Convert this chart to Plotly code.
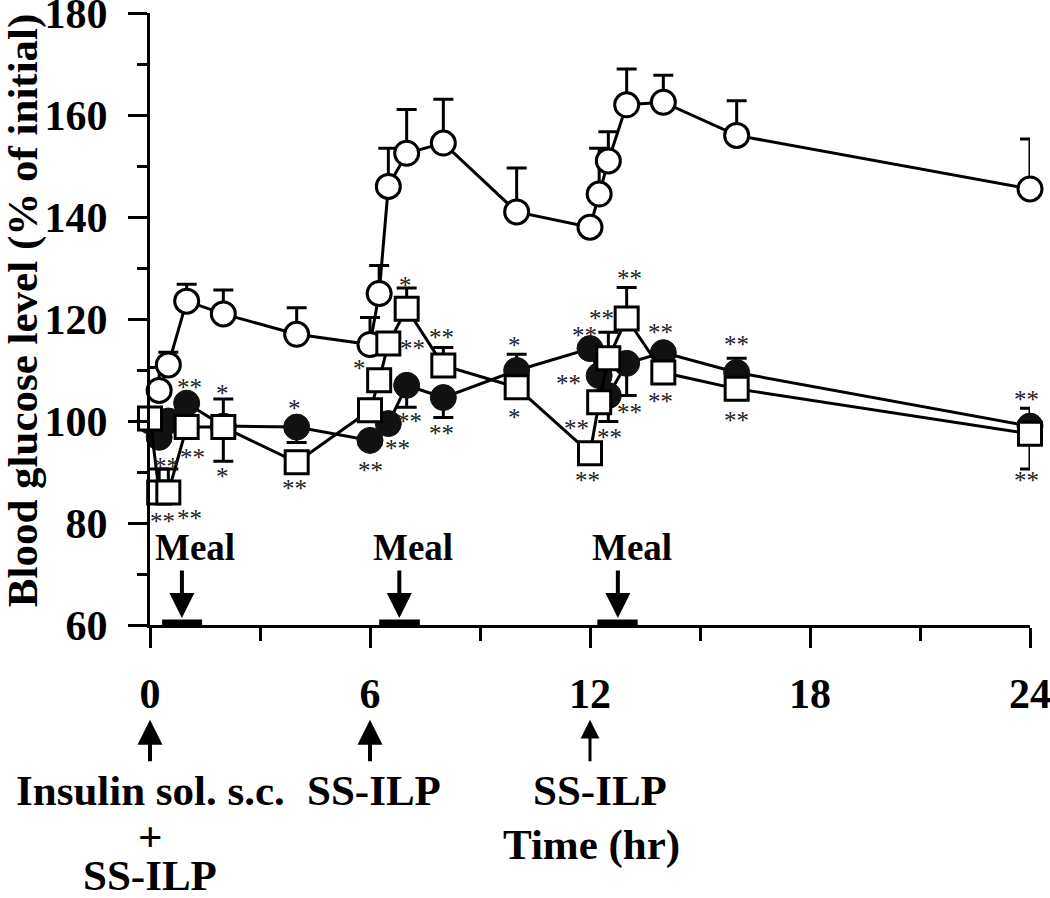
import plotly.graph_objects as go

# ---------------- data ----------------
t_open = [0.25, 0.5, 1, 2, 4, 6, 6.25, 6.5, 7, 8, 10, 12, 12.25, 12.5, 13, 14, 16, 24]
v_open = [106, 111, 123.5, 121, 117, 115, 125, 146, 152.5, 154.5, 141, 138, 144.5, 151, 162, 162.5, 156, 145.5]
e_open_up = [4.5, 2.5, 3.3, 4.7, 5.2, 5.3, 5.5, 7.5, 8.6, 8.6, 8.6, 0, 9, 5.7, 7, 5.3, 6.8, 9.8]

t_fill = [0, 0.25, 0.5, 1, 2, 4, 6, 6.5, 7, 8, 10, 12, 12.25, 12.5, 13, 14, 16, 24]
v_fill = [100, 96.8, 100, 103.5, 99, 98.8, 96.2, 99.5, 107, 104.6, 109.9, 114.2, 108.9, 105, 111.3, 113.4, 109.5, 99]
e_fill_up = [0, 0, 0, 0, 0, 0, 0, 0, 0, 0, 3.2, 0, 0, 0, 0, 0, 2.8, 3.5]
e_fill_dn = [0, 0, 0, 0, 0, 3, 0, 0, 4.3, 3.9, 0, 0, 0, 5.1, 6.3, 0, 0, 0]

t_sq = [0, 0.25, 0.5, 1, 2, 4, 6, 6.25, 6.5, 7, 8, 10, 12, 12.25, 12.5, 13, 14, 16, 24]
v_sq = [100.5, 86, 86, 98.8, 98.8, 91.9, 102.1, 108, 115.2, 122, 110.9, 106.6, 93.7, 103.7, 112.3, 120.1, 109.5, 106.3, 97.5]
e_sq_up = [0, 4.6, 4.6, 0, 5.5, 0, 0, 0, 0, 4.1, 3.5, 0, 0, 0, 5.1, 6.1, 0, 0, 0]
e_sq_dn = [0, 0, 0, 0, 6.7, 0, 0, 0, 0, 0, 0, 0, 0, 0, 0, 0, 0, 0, 6.9]

star_t = [1.09, 1.15, 1.99, 1.99, 3.93, 3.93, 5.70, 7.17, 7.09, 6.74, 6.0, 0.44, 0.33, 1.09,
          7.96, 7.96, 6.98, 9.93, 9.93, 11.4, 13.09, 12.3, 11.85, 13.91, 13.09, 13.91,
          12.54, 11.64, 11.94, 16.0, 16.0, 23.9, 23.9]
star_v = [107.6, 93.9, 106.4, 90.1, 103.5, 87.8, 111.3, 115.2, 100.9, 95.6, 91.3, 92.1, 81.3, 81.8,
          117.4, 98.6, 127.5, 115.8, 101.7, 108.4, 128.9, 121.0, 117.8, 118.3, 102.7, 104.8,
          97.8, 99.5, 89.4, 116.0, 101.1, 105.2, 89.4]
star_txt = ["**", "**", "*", "*", "*", "**", "*", "**", "**", "**", "**", "**", "**", "**",
            "**", "**", "*", "*", "*", "**", "**", "**", "**", "**", "**", "**",
            "**", "**", "**", "**", "**", "**", "**"]

meal_arrow_t = [0.87, 6.8, 12.76]
meal_text_t = [1.23, 7.18, 13.15]
meal_start = [0.33, 6.25, 12.2]
meal_end = [1.42, 7.36, 13.3]

dose_t = [0, 6, 12]
dose_labels = ["Insulin sol. s.c.", "SS-ILP", "SS-ILP"]
dose_label_t = [0, 6.1, 12.27]

x_ticks = [0, 6, 12, 18, 24]
y_ticks = [60, 80, 100, 120, 140, 160, 180]

FONT = "Liberation Serif"
BOLD = dict(family=FONT, size=43, color="black", weight="bold")

fig = go.Figure()

fig.add_trace(go.Scatter(
    x=t_open, y=v_open, mode="lines+markers", cliponaxis=False,
    line=dict(color="black", width=3),
    marker=dict(symbol="circle", size=24, color="white", line=dict(color="black", width=3)),
    error_y=dict(type="data", symmetric=False, array=e_open_up, arrayminus=[0] * len(e_open_up),
                 color="black", thickness=3, width=10),
))
fig.add_trace(go.Scatter(
    x=t_fill, y=v_fill, mode="lines+markers", cliponaxis=False,
    line=dict(color="black", width=3),
    marker=dict(symbol="circle", size=26, color="#111111", line=dict(color="#111111", width=1)),
    error_y=dict(type="data", symmetric=False, array=e_fill_up, arrayminus=e_fill_dn,
                 color="black", thickness=3, width=10),
))
fig.add_trace(go.Scatter(
    x=t_sq, y=v_sq, mode="lines+markers", cliponaxis=False,
    line=dict(color="black", width=3),
    marker=dict(symbol="square", size=23, color="white", line=dict(color="black", width=3)),
    error_y=dict(type="data", symmetric=False, array=e_sq_up, arrayminus=e_sq_dn,
                 color="black", thickness=3, width=10),
))

# meal bars on the axis
for s, e in zip(meal_start, meal_end):
    fig.add_shape(type="line", xref="x", yref="y", x0=s, x1=e, y0=60, y1=60,
                  line=dict(color="black", width=11), layer="above")

annotations = []
for t, v, s in zip(star_t, star_v, star_txt):
    annotations.append(dict(x=t, y=v, xref="x", yref="y", text=s, showarrow=False,
                            xanchor="center", yanchor="middle", yshift=-5,
                            font=dict(family=FONT, size=25, color="#222222")))

for ta, tt in zip(meal_arrow_t, meal_text_t):
    annotations.append(dict(x=ta, y=60, xref="x", yref="y", text="", showarrow=True,
                            ax=0, ay=-56, arrowhead=2, arrowsize=1.25, arrowwidth=4,
                            arrowcolor="black", standoff=7))
    annotations.append(dict(x=tt, y=75.2, xref="x", yref="y", text="Meal", showarrow=False,
                            xanchor="center", yanchor="middle",
                            font=dict(family=FONT, size=37, color="black", weight="bold")))

for i, t in enumerate(dose_t):
    annotations.append(dict(x=t, y=-0.155, xref="x", yref="paper", text="", showarrow=True,
                            ax=0, ay=43, arrowhead=2, arrowsize=1.25,
                            arrowwidth=4 if i < 2 else 3, arrowcolor="black", standoff=0))
for t, lab in zip(dose_label_t, dose_labels):
    annotations.append(dict(x=t, y=-0.27, xref="x", yref="paper", text=lab, showarrow=False,
                            xanchor="center", yanchor="middle", font=BOLD))
annotations.append(dict(x=0, y=-0.346, xref="x", yref="paper", text="+", showarrow=False,
                        xanchor="center", yanchor="middle", font=BOLD))
annotations.append(dict(x=0, y=-0.41, xref="x", yref="paper", text="SS-ILP", showarrow=False,
                        xanchor="center", yanchor="middle", font=BOLD))
annotations.append(dict(x=12.05, y=-0.359, xref="x", yref="paper", text="Time (hr)", showarrow=False,
                        xanchor="center", yanchor="middle", font=BOLD))
annotations.append(dict(x=-0.145, y=0.515, xref="paper", yref="paper",
                        text="Blood glucose level (% of initial)", textangle=-90, showarrow=False,
                        xanchor="center", yanchor="middle",
                        font=dict(family=FONT, size=43, color="black", weight="bold")))

fig.update_layout(
    width=1050, height=898,
    margin=dict(l=150, r=20, t=13, b=273, autoexpand=False),
    paper_bgcolor="white", plot_bgcolor="white",
    showlegend=False,
    annotations=annotations,
    xaxis=dict(range=[0, 24], tickvals=x_ticks, ticktext=[str(v) for v in x_ticks],
               automargin=False,
               showgrid=False, zeroline=False, showline=True, linecolor="black", linewidth=3,
               ticks="outside", ticklen=20, tickwidth=3, tickcolor="black",
               ticklabelstandoff=10, ticklabeloverflow="allow",
               minor=dict(tickvals=[3, 9, 15, 21], ticks="outside", ticklen=13, tickwidth=3,
                          tickcolor="black", showgrid=False),
               tickfont=dict(family=FONT, size=42, color="black", weight="bold")),
    yaxis=dict(range=[60, 180], tickvals=y_ticks, ticktext=[str(v) for v in y_ticks],
               automargin=False,
               showgrid=False, zeroline=False, showline=True, linecolor="black", linewidth=3,
               ticks="outside", ticklen=19, tickwidth=3, tickcolor="black",
               ticklabelstandoff=12, ticklabeloverflow="allow",
               minor=dict(tickvals=[70, 90, 110, 130, 150, 170], ticks="outside", ticklen=10,
                          tickwidth=3, tickcolor="black", showgrid=False),
               tickfont=dict(family=FONT, size=42, color="black", weight="bold")),
)

fig.write_html("out.html", config={"displayModeBar": False},
               post_script="document.body.style.margin='0';document.body.style.overflow='hidden';")
